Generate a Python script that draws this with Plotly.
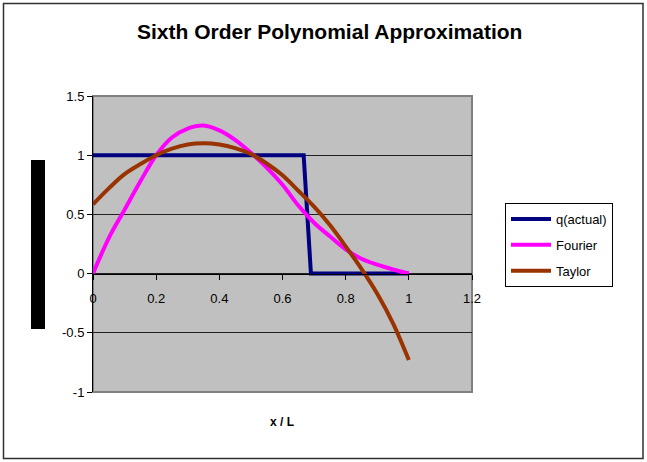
import plotly.graph_objects as go

# ---- data ----
x_grid = [0.00, 0.05, 0.10, 0.15, 0.20, 0.25, 0.30, 0.35, 0.40, 0.45, 0.50,
          0.55, 0.60, 0.65, 0.70, 0.75, 0.80, 0.85, 0.90, 0.95, 1.00]

fourier = [0.00, 0.30, 0.54, 0.78, 1.00, 1.15, 1.225, 1.25, 1.21, 1.13, 1.02,
           0.895, 0.75, 0.575, 0.43, 0.315, 0.205, 0.125, 0.075, 0.035, 0.00]

taylor = [0.585, 0.72, 0.84, 0.925, 1.00, 1.055, 1.09, 1.10, 1.09, 1.06, 1.01,
          0.93, 0.83, 0.70, 0.565, 0.41, 0.23, 0.04, -0.17, -0.42, -0.73]

x_q = [0.00, 0.10, 0.20, 0.30, 0.40, 0.50, 0.60, 0.667, 0.69, 0.70,
       0.80, 0.90, 1.00]
q_actual = [1, 1, 1, 1, 1, 1, 1, 1, 0, 0, 0, 0, 0]

x_ticks = [0, 0.2, 0.4, 0.6, 0.8, 1.0, 1.2]
x_tick_labels = ["0", "0.2", "0.4", "0.6", "0.8", "1", "1.2"]
y_ticks = [-1, -0.5, 0, 0.5, 1, 1.5]
y_tick_labels = ["-1", "-0.5", "0", "0.5", "1", "1.5"]

FONT = "Arial, Liberation Sans, sans-serif"

fig = go.Figure()
fig.add_trace(go.Scatter(x=x_q, y=q_actual, name="q(actual)", mode="lines",
                         line=dict(color="#000080", width=4),
                         legendgroup="a"))
fig.add_trace(go.Scatter(x=x_grid, y=fourier, name="Fourier", mode="lines",
                         line=dict(color="#FF00FF", width=4, shape="spline"),
                         legendgroup="b"))
fig.add_trace(go.Scatter(x=x_grid, y=taylor, name="Taylor", mode="lines",
                         line=dict(color="#993300", width=4, shape="spline"),
                         legendgroup="c"))

W, H = 647, 462
L, R, T, B = 93, 175, 96, 70
pw, ph = W - L - R, H - T - B

def px(xpix):
    return (xpix - L) / pw

def py(ypix):
    return (H - B - ypix) / ph

fig.update_layout(
    width=W, height=H,
    margin=dict(l=L, r=R, t=T, b=B, pad=0),
    paper_bgcolor="white",
    plot_bgcolor="#C0C0C0",
    font=dict(family=FONT, size=13, color="black"),
    showlegend=True,
    legend=dict(x=px(505), y=py(203), xanchor="left", yanchor="top",
                bordercolor="black", borderwidth=1, bgcolor="white",
                font=dict(family=FONT, size=13, color="black"),
                tracegroupgap=6, itemwidth=40),
    xaxis=dict(range=[0, 1.2], tickvals=x_ticks, ticktext=x_tick_labels,
               anchor="free", position=0.4, showgrid=False, zeroline=False,
               showline=True, linecolor="black", linewidth=1,
               ticks="outside", ticklen=5, tickcolor="black",
               ticklabelstandoff=8,
               tickfont=dict(family=FONT, size=13, color="black")),
    yaxis=dict(range=[-1, 1.5], tickvals=y_ticks, ticktext=y_tick_labels,
               showgrid=True, gridcolor="#202020", gridwidth=1, zeroline=False,
               showline=True, linecolor="black", linewidth=1,
               ticks="outside", ticklen=5, tickcolor="black",
               tickfont=dict(family=FONT, size=13, color="black")),
    annotations=[
        dict(text="<b>Sixth Order Polynomial Approximation</b>", xref="paper", yref="paper",
             x=px(329), y=py(31), xanchor="center", yanchor="middle", showarrow=False,
             font=dict(family=FONT, size=21, color="black")),
        dict(text="<b>x / L</b>", xref="paper", yref="paper",
             x=px(282), y=py(422), xanchor="center", yanchor="middle", showarrow=False,
             font=dict(family=FONT, size=12, color="black")),
    ],
    shapes=[
        # plot area frame
        dict(type="rect", xref="paper", yref="paper", x0=0, y0=0, x1=1, y1=1,
             line=dict(color="#808080", width=2), layer="below"),
        # black bar (collapsed y-axis title in the original)
        dict(type="rect", xref="paper", yref="paper", x0=px(31), x1=px(45),
             y0=py(329), y1=py(160), line=dict(width=0), fillcolor="black"),
        # outer chart border
        dict(type="rect", xref="paper", yref="paper", x0=px(3.5), x1=px(643),
             y0=py(458.5), y1=py(3.5), line=dict(color="#303030", width=1.5)),
    ],
)

fig.write_html("out.html", config={"displayModeBar": False},
               post_script="document.body.style.margin='0px';document.body.style.padding='0px';")
